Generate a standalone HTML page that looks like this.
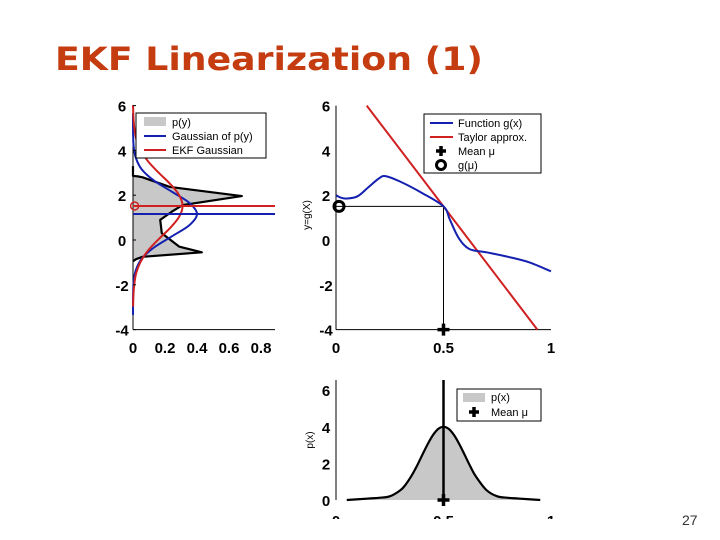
<!DOCTYPE html>
<html><head><meta charset="utf-8"><style>
html,body{margin:0;padding:0;background:#fff;}
svg{display:block;font-family:"Liberation Sans",sans-serif;}
</style></head><body>
<svg id="s" width="720" height="540" viewBox="0 0 720 540" xmlns="http://www.w3.org/2000/svg">
<defs><clipPath id="cb"><rect x="0" y="0" width="720" height="519"/></clipPath></defs>
<text x="55" y="70" font-family="DejaVu Sans,sans-serif" font-weight="bold" font-size="32" fill="#c43c10" textLength="428" lengthAdjust="spacingAndGlyphs">EKF Linearization (1)</text>
<text x="682" y="525" font-size="14" fill="#333">27</text>
<g id="pl"></g>
<g id="pm"></g>
<g id="pb" clip-path="url(#cb)"></g>
</svg>
<script>
// left: p(y)
const pyY=[3.3,2.86,2.84,2.8,2.37,1.96,1.56,1.3,0.9,0.3,-0.3,-0.55,-0.75,-0.85,-0.95];
const pyD=[0,0,0.03,0.06,0.23,0.68,0.31,0.25,0.17,0.18,0.29,0.43,0.06,0.02,0];
const gOff=[-4.5,-4,-3.5,-3,-2.5,-2,-1.5,-1,-0.5,0,0.5,1,1.5,2,2.5,3,3.5,4,4.5];
const blueMean=[1.16];
const blueD=[0,0.0001,0.0009,0.0044,0.018,0.054,0.130,0.242,0.352,0.40,0.352,0.242,0.130,0.054,0.018,0.0044,0.0009,0.0001,0];
const redMean=[1.52];
const redD=[0.0006,0.0025,0.008,0.020,0.047,0.093,0.158,0.230,0.287,0.31,0.287,0.230,0.158,0.093,0.047,0.020,0.008,0.0025,0.0006];
const leftXTicks=[0,0.2,0.4,0.6,0.8];
const yTicks=[-4,-2,0,2,4,6];
// middle: g(x)
const gx=[0,0.02,0.05,0.1,0.15,0.2,0.23,0.3,0.4,0.5,0.53,0.57,0.62,0.7,0.8,0.9,1.0];
const gy=[2.0,1.9,1.85,1.95,2.35,2.75,2.85,2.6,2.1,1.5,0.9,0.1,-0.4,-0.55,-0.75,-1.0,-1.4];
const meanX=[0.5];
const gMu=[1.5];
const slope=[-12.6];
const midXTicks=[0,0.5,1];
// bottom: p(x)
const px=[0.05,0.15,0.2,0.25,0.3,0.325,0.35,0.375,0.4,0.425,0.45,0.475,0.5,0.525,0.55,0.575,0.6,0.625,0.65,0.7,0.75,0.8,0.85,0.95];
const pxv=[0,0.08,0.12,0.2,0.54,0.86,1.3,1.83,2.43,3.02,3.53,3.88,4.0,3.88,3.53,3.02,2.43,1.83,1.3,0.54,0.2,0.12,0.08,0];
const botYTicks=[0,2,4,6];

const NS="http://www.w3.org/2000/svg";
function mk(p,t,a){const e=document.createElementNS(NS,t);for(const k in a)e.setAttribute(k,a[k]);p.appendChild(e);return e;}
function txt(p,x,y,s,a){const e=mk(p,'text',Object.assign({x:x,y:y,'font-size':15,'font-weight':'bold','text-anchor':'middle'},a||{}));e.textContent=s;return e;}
function smooth(pts){let d='M'+pts[0][0]+','+pts[0][1];for(let i=0;i<pts.length-1;i++){const p0=pts[Math.max(0,i-1)],p1=pts[i],p2=pts[i+1],p3=pts[Math.min(pts.length-1,i+2)];
 d+='C'+(p1[0]+(p2[0]-p0[0])/6)+','+(p1[1]+(p2[1]-p0[1])/6)+' '+(p2[0]-(p3[0]-p1[0])/6)+','+(p2[1]-(p3[1]-p1[1])/6)+' '+p2[0]+','+p2[1];}return d;}
const ya=v=>240-v*22.4;
// LEFT
const L=document.getElementById('pl');
const lx=v=>133+v*160;
let d='M'+lx(0)+','+ya(pyY[0]);pyY.forEach((y,i)=>d+='L'+lx(pyD[i])+','+ya(y));
let e=mk(L,'path',{d:d+'Z',fill:'#c8c8c8',stroke:'none'});

d='';pyY.forEach((y,i)=>d+=(i?'L':'M')+lx(pyD[i])+','+ya(y));
e=mk(L,'path',{d:d,fill:'none',stroke:'#000','stroke-width':2.2,'stroke-linejoin':'round'});

e=mk(L,'line',{x1:lx(0),y1:ya(-4),x2:lx(0),y2:ya(6),stroke:'#000'});

e=mk(L,'line',{x1:lx(0),y1:ya(-4),x2:275,y2:ya(-4),stroke:'#000'});

e=mk(L,'path',{d:smooth(gOff.map((o,i)=>[lx(blueD[i]),ya(blueMean[0]+o)])),fill:'none',stroke:'#1420b0','stroke-width':2});

e=mk(L,'path',{d:smooth(gOff.map((o,i)=>[lx(redD[i]),ya(redMean[0]+o)])),fill:'none',stroke:'#d02020','stroke-width':2});

mk(L,'line',{x1:lx(0),y1:ya(6),x2:lx(0),y2:ya(5.9),stroke:'#d02020','stroke-width':2});
e=mk(L,'line',{x1:lx(0),y1:ya(blueMean[0]),x2:275,y2:ya(blueMean[0]),stroke:'#1420b0','stroke-width':2});

e=mk(L,'line',{x1:lx(0),y1:ya(redMean[0]),x2:275,y2:ya(redMean[0]),stroke:'#d02020','stroke-width':2});

mk(L,'circle',{cx:lx(0.01),cy:ya(redMean[0]),r:4,fill:'none',stroke:'#d02020','stroke-width':1.5});
yTicks.forEach(v=>{e=txt(L,122,ya(v)+6,String(v));
 mk(L,'line',{x1:lx(0),y1:ya(v),x2:lx(0)+3,y2:ya(v),stroke:'#000'});});
leftXTicks.forEach(v=>{e=txt(L,lx(v),353,String(v));});
const lg=mk(L,'g',{});
mk(lg,'rect',{x:136,y:113,width:130,height:45,fill:'#fff',stroke:'#000'});
mk(lg,'rect',{x:144,y:117,width:22,height:9,fill:'#c8c8c8'});
mk(lg,'line',{x1:144,y1:136,x2:166,y2:136,stroke:'#1420b0','stroke-width':2});
mk(lg,'line',{x1:144,y1:150,x2:166,y2:150,stroke:'#d02020','stroke-width':2});
[['p(y)',126],['Gaussian of p(y)',140],['EKF Gaussian',154]].forEach(a=>txt(lg,172,a[1],a[0],{'font-size':11,'font-weight':'normal','text-anchor':'start'}));
// MIDDLE
const M=document.getElementById('pm');
const mx=v=>336+v*215;
e=mk(M,'line',{x1:mx(0),y1:ya(-4),x2:mx(0),y2:ya(6),stroke:'#000'});

e=mk(M,'line',{x1:mx(0),y1:ya(-4),x2:mx(1),y2:ya(-4),stroke:'#000'});

mk(M,'polyline',{points:`${mx(0)},${ya(gMu[0])} ${mx(meanX[0])},${ya(gMu[0])} ${mx(meanX[0])},${ya(-4)}`,fill:'none',stroke:'#000','stroke-width':1});
const x0=meanX[0]+(6-gMu[0])/slope[0], x1=meanX[0]+(-4-gMu[0])/slope[0];
e=mk(M,'line',{x1:mx(x0),y1:ya(6),x2:mx(x1),y2:ya(-4),stroke:'#d02020','stroke-width':2});

e=mk(M,'path',{d:smooth(gx.map((x,i)=>[mx(x),ya(gy[i])])),fill:'none',stroke:'#1420b0','stroke-width':2});

e=mk(M,'circle',{cx:mx(0)+3,cy:ya(gMu[0]),r:5,fill:'none',stroke:'#000','stroke-width':3});

e=mk(M,'path',{d:`M${mx(meanX[0])-6},${ya(-4)}h12M${mx(meanX[0])},${ya(-4)-6}v12`,stroke:'#000','stroke-width':3.5});

yTicks.forEach(v=>{e=txt(M,326,ya(v)+6,String(v));});
midXTicks.forEach(v=>{e=txt(M,mx(v),353,String(v));});
e=txt(M,0,0,'y=g(X)',{'font-size':10,'font-weight':'normal',transform:'translate(310,215) rotate(-90)'});

const mg=mk(M,'g',{});
mk(mg,'rect',{x:424,y:114,width:117,height:59,fill:'#fff',stroke:'#000'});
mk(mg,'line',{x1:430,y1:123,x2:453,y2:123,stroke:'#1420b0','stroke-width':2});
mk(mg,'line',{x1:430,y1:137,x2:453,y2:137,stroke:'#d02020','stroke-width':2});
mk(mg,'path',{d:'M436,151h10M441,146v10',stroke:'#000','stroke-width':3.5});
mk(mg,'circle',{cx:441,cy:165,r:4.5,fill:'none',stroke:'#000','stroke-width':3});
[['Function g(x)',127],['Taylor approx.',141],['Mean \u03bc',155],['g(\u03bc)',169]].forEach(a=>txt(mg,458,a[1],a[0],{'font-size':11,'font-weight':'normal','text-anchor':'start'}));
// BOTTOM
const B=document.getElementById('pb');
const by=v=>500-v*18.3;
const bpts=px.map((x,i)=>[mx(x),by(pxv[i])]);
e=mk(B,'path',{d:smooth(bpts)+'Z',fill:'#c8c8c8'});

e=mk(B,'path',{d:smooth(bpts),fill:'none',stroke:'#000','stroke-width':2.2});

e=mk(B,'line',{x1:mx(0),y1:by(0),x2:mx(0),y2:380,stroke:'#000'});

mk(B,'line',{x1:mx(meanX[0]),y1:by(0),x2:mx(meanX[0]),y2:380,stroke:'#000','stroke-width':2.5});
e=mk(B,'path',{d:`M${mx(meanX[0])-6},${by(0)}h12M${mx(meanX[0])},${by(0)-6}v12`,stroke:'#000','stroke-width':3.5});

botYTicks.forEach(v=>{e=txt(B,326,by(v)+6,String(v));});
midXTicks.forEach(v=>{e=txt(B,mx(v),526,String(v));});
e=txt(B,0,0,'p(x)',{'font-size':10,'font-weight':'normal',transform:'translate(313,440) rotate(-90)'});

const bg=mk(B,'g',{});
mk(bg,'rect',{x:457,y:389,width:84,height:32,fill:'#fff',stroke:'#000'});
mk(bg,'rect',{x:463,y:393,width:22,height:9,fill:'#c8c8c8'});
mk(bg,'path',{d:'M469,412h10M474,407v10',stroke:'#000','stroke-width':3.5});
[['p(x)',401],['Mean \u03bc',416]].forEach(a=>txt(bg,491,a[1],a[0],{'font-size':11,'font-weight':'normal','text-anchor':'start'}));
</script>
</body></html>
